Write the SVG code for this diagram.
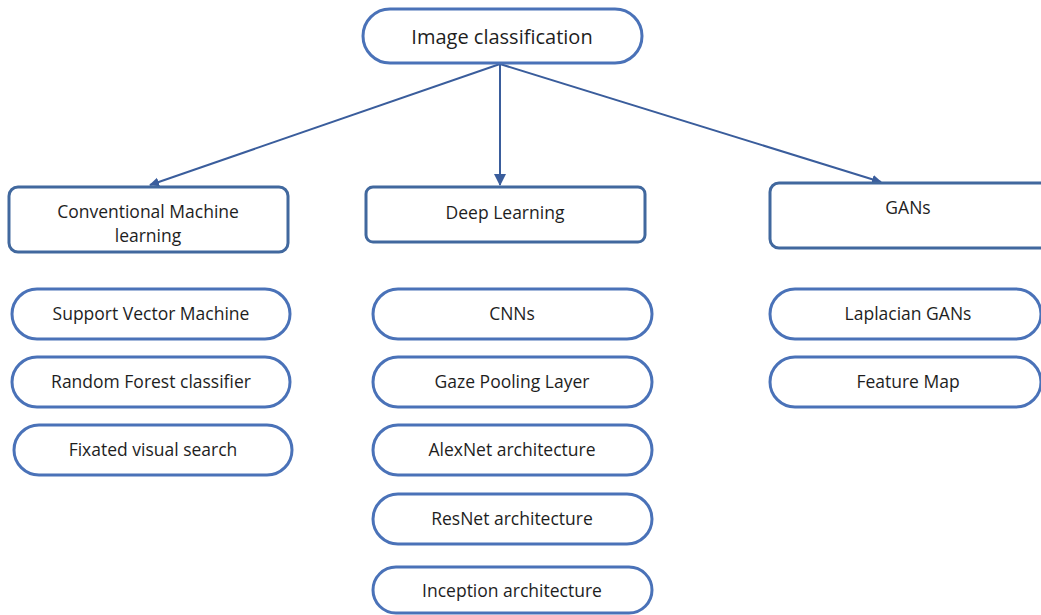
<svg xmlns="http://www.w3.org/2000/svg" width="1041" height="615" viewBox="0 0 1041 615">
<defs>
<marker id="ah" markerWidth="12" markerHeight="12" refX="9" refY="6" orient="auto" markerUnits="userSpaceOnUse">
<path d="M0,1.5 L10,6 L0,10.5 z" fill="#3a5d9c"/>
</marker>
<marker id="ah2" markerWidth="14" markerHeight="14" refX="11" refY="7" orient="auto" markerUnits="userSpaceOnUse">
<path d="M0,1 L12,7 L0,13 z" fill="#3a5d9c"/>
</marker>
</defs>
<style>
.pill{fill:#fff;stroke:#4a72b8;stroke-width:3}
.box{fill:#fff;stroke:#41689e;stroke-width:3}
text{font-family:"Open Sans","Liberation Sans",sans-serif;fill:#1e1e1e;text-anchor:middle;font-size:17.5px}
.title{font-size:20px}
.con{stroke:#3a5d9c;stroke-width:2;fill:none}
</style>
<rect width="1041" height="615" fill="#fff"/>
<g id="connectors">
<line class="con" x1="500" y1="64" x2="150" y2="185" marker-end="url(#ah)"/>
<line class="con" x1="500" y1="64" x2="500" y2="185" stroke-width="3" marker-end="url(#ah2)"/>
<line class="con" x1="500" y1="64" x2="881" y2="182" marker-end="url(#ah)"/>
</g>
<g id="n-root"><rect class="pill" x="363" y="9" width="279" height="54" rx="27"/><text class="title" x="502" y="44">Image classification</text></g>
<g id="n-cml"><rect class="box" x="9" y="187" width="279" height="65" rx="9"/><text x="148" y="218">Conventional Machine</text><text x="148" y="242">learning</text></g>
<g id="n-dl"><rect class="box" x="366" y="187" width="279" height="55" rx="7"/><text x="505" y="219">Deep Learning</text></g>
<g id="n-gans"><rect class="box" x="770" y="183" width="285" height="65" rx="9"/><text x="908" y="214">GANs</text></g>
<g id="n-svm"><rect class="pill" x="12" y="289" width="278" height="50" rx="25"/><text x="151" y="320">Support Vector Machine</text></g>
<g id="n-rf"><rect class="pill" x="12" y="357" width="278" height="50" rx="25"/><text x="151" y="388">Random Forest classifier</text></g>
<g id="n-fvs"><rect class="pill" x="14" y="425" width="278" height="50" rx="25"/><text x="153" y="456">Fixated visual search</text></g>
<g id="n-cnn"><rect class="pill" x="373" y="289" width="279" height="50" rx="25"/><text x="512" y="320">CNNs</text></g>
<g id="n-gaze"><rect class="pill" x="373" y="357" width="279" height="50" rx="25"/><text x="512" y="388">Gaze Pooling Layer</text></g>
<g id="n-alex"><rect class="pill" x="373" y="425" width="279" height="50" rx="25"/><text x="512" y="456">AlexNet architecture</text></g>
<g id="n-res"><rect class="pill" x="373" y="494" width="279" height="50" rx="25"/><text x="512" y="525">ResNet architecture</text></g>
<g id="n-inc"><rect class="pill" x="373" y="567" width="279" height="46" rx="23"/><text x="512" y="597">Inception architecture</text></g>
<g id="n-lap"><rect class="pill" x="770" y="289" width="271" height="50" rx="25"/><text x="908" y="320">Laplacian GANs</text></g>
<g id="n-fm"><rect class="pill" x="770" y="357" width="271" height="50" rx="25"/><text x="908" y="388">Feature Map</text></g>
</svg>
